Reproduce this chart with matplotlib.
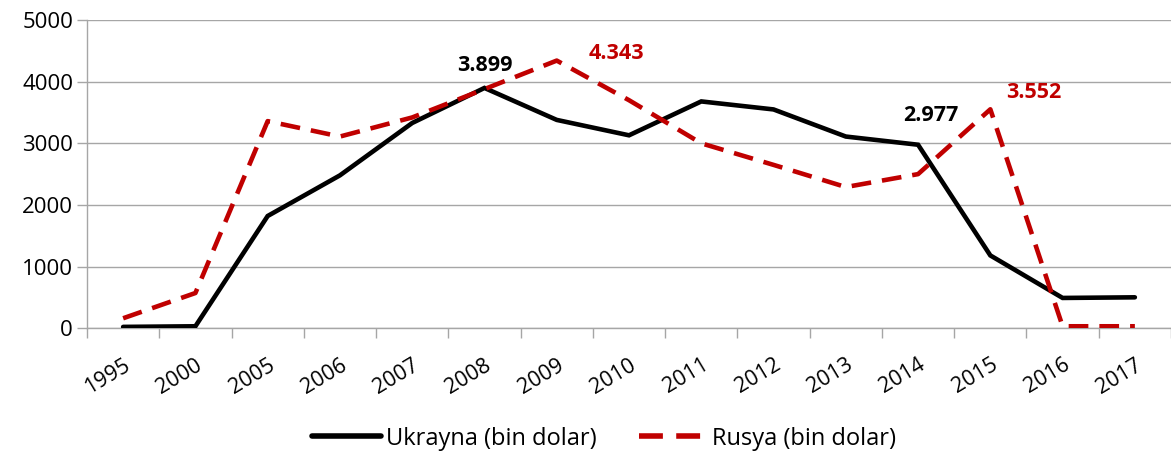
import matplotlib
matplotlib.use("Agg")
import matplotlib.pyplot as plt
import numpy as np

years = ["1995", "2000", "2005", "2006", "2007", "2008", "2009", "2010",
         "2011", "2012", "2013", "2014", "2015", "2016", "2017"]
ukrayna = [20, 30, 1820, 2480, 3330, 3899, 3380, 3130, 3680, 3550, 3110, 2977, 1180, 490, 500]
rusya = [160, 570, 3360, 3110, 3420, 3880, 4343, 3700, 3000, 2650, 2290, 2500, 3552, 30, 30]
ann_ukr = {5: "3.899", 11: "2.977"}
ann_rus = {6: "4.343", 12: "3.552"}

plt.rcParams['font.family'] = ['Open Sans', 'DejaVu Sans']

fig = plt.figure(figsize=(11.71, 4.57), dpi=100)
ax = fig.add_axes([0.0743, 0.282, 0.9257, 0.674])

x = np.arange(len(years)) + 0.5
grid_c = "#a6a6a6"
red = "#c00000"

ax.plot(x, ukrayna, color="black", lw=3.3, solid_capstyle="round", solid_joinstyle="miter",
        label="Ukrayna (bin dolar)", zorder=3)
ax.plot(x, rusya, color=red, lw=3.3, dashes=(4.3, 2.4), dash_capstyle="butt",
        label="Rusya (bin dolar)", zorder=4)

ukr_off = {5: (0, 16.5), 11: (9, 21)}
rus_off = {6: (43, 5), 12: (31, 12)}
for i, t in ann_ukr.items():
    ax.annotate(t, (x[i], ukrayna[i]), xytext=ukr_off[i], textcoords="offset points",
                ha="center", va="center", fontsize=15.5, fontweight="bold", color="black")
for i, t in ann_rus.items():
    ax.annotate(t, (x[i], rusya[i]), xytext=rus_off[i], textcoords="offset points",
                ha="center", va="center", fontsize=15.5, fontweight="bold", color=red)

ax.set_xlim(0, len(years))
ax.set_ylim(0, 5000)
ax.set_yticks(np.arange(0, 5001, 1000))
ax.set_yticklabels([str(v) for v in range(0, 5001, 1000)], fontsize=16)
ax.set_xticks(np.arange(0, len(years) + 1), minor=False)
ax.set_xticklabels([])
ax.set_xticks(x, minor=True)
ax.set_xticklabels(years, minor=True, rotation=31, ha="right", rotation_mode="anchor", fontsize=15.5)
ax.tick_params(axis="x", which="minor", length=0, pad=19)
ax.tick_params(axis="x", which="major", length=7, color=grid_c, width=1)
ax.tick_params(axis="y", length=7, color=grid_c, width=1, pad=3)

ax.grid(axis="y", color=grid_c, lw=1)
ax.set_axisbelow(True)
for s in ["top", "right"]:
    ax.spines[s].set_visible(False)
for s in ["left", "bottom"]:
    ax.spines[s].set_color(grid_c)
    ax.spines[s].set_linewidth(1)

leg = fig.legend(loc="center", bbox_to_anchor=(0.516, 0.04), ncol=2, frameon=False,
                 fontsize=17, handlelength=2.9, columnspacing=1.8, handletextpad=0.2)
for h in leg.get_lines():
    h.set_linewidth(4)

fig.savefig("out.png", dpi=100)
